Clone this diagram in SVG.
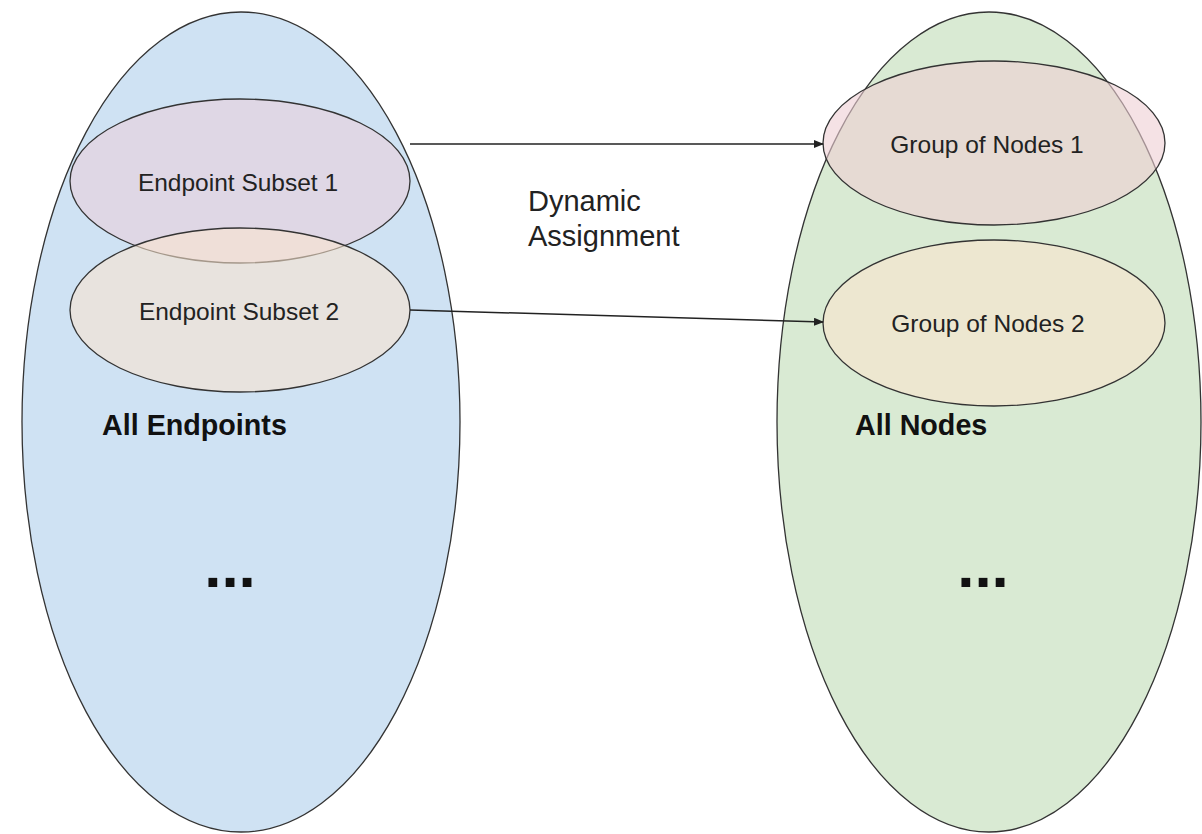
<svg xmlns="http://www.w3.org/2000/svg" width="1202" height="834" viewBox="0 0 1202 834">
  <defs>
    <marker id="arrowhead" markerWidth="10" markerHeight="8" refX="9" refY="4" orient="auto" markerUnits="userSpaceOnUse">
      <path d="M0,0 L10,4 L0,8 Z" fill="#222"/>
    </marker>
    <style>
      .outline { stroke: #333; stroke-width: 1.3; }
      .set-a { fill: #cfe2f3; }
      .set-b { fill: #d9ead3; }
      .pink { fill: #ead1dc; fill-opacity: 0.6; }
      .rose { fill: #efcfd4; fill-opacity: 0.6; }
      .peach { fill: #fce5cd; fill-opacity: 0.57; }
      .label { font-family: "Liberation Sans", Arial, sans-serif; fill: #222; }
      .small { font-size: 24.5px; }
      .mid { font-size: 29px; }
      .big { font-size: 28.7px; font-weight: bold; fill: #111; }
      .dots { font-size: 62px; font-weight: bold; fill: #111; }
      .link { stroke: #222; stroke-width: 1.5; fill: none; }
    </style>
  </defs>

  <rect width="1202" height="834" fill="#ffffff"/>

  <!-- left container: every endpoint -->
  <g id="all-endpoints">
    <ellipse class="set-a outline" cx="241" cy="422" rx="219" ry="410"/>
    <text class="label big" x="102" y="435">All Endpoints</text>
    <text class="label dots" x="230" y="587" text-anchor="middle">...</text>
  </g>

  <!-- right container: every node -->
  <g id="all-nodes">
    <ellipse class="set-b outline" cx="989" cy="422" rx="212" ry="410"/>
    <text class="label big" x="855" y="435">All Nodes</text>
    <text class="label dots" x="983" y="587" text-anchor="middle">...</text>
  </g>

  <g id="endpoint-subset-1">
    <ellipse class="pink outline" cx="240" cy="181" rx="170" ry="82"/>
    <text class="label small" x="238" y="191" text-anchor="middle">Endpoint Subset 1</text>
  </g>

  <g id="endpoint-subset-2">
    <ellipse class="peach outline" cx="240" cy="310" rx="170" ry="82"/>
    <text class="label small" x="239" y="320" text-anchor="middle">Endpoint Subset 2</text>
  </g>

  <g id="group-of-nodes-1">
    <ellipse class="rose outline" cx="994" cy="143" rx="171" ry="82"/>
    <text class="label small" x="987" y="153" text-anchor="middle">Group of Nodes 1</text>
  </g>

  <g id="group-of-nodes-2">
    <ellipse class="peach outline" cx="994" cy="323" rx="171" ry="83"/>
    <text class="label small" x="988" y="332" text-anchor="middle">Group of Nodes 2</text>
  </g>

  <g id="assignment-label">
    <text class="label mid" x="528" y="211">Dynamic</text>
    <text class="label mid" x="528" y="246">Assignment</text>
  </g>

  <!-- subset to group links -->
  <g id="connectors">
    <line class="link" x1="410" y1="144" x2="823" y2="144" marker-end="url(#arrowhead)"/>
    <line class="link" x1="410" y1="310" x2="823" y2="322" marker-end="url(#arrowhead)"/>
  </g>
</svg>
